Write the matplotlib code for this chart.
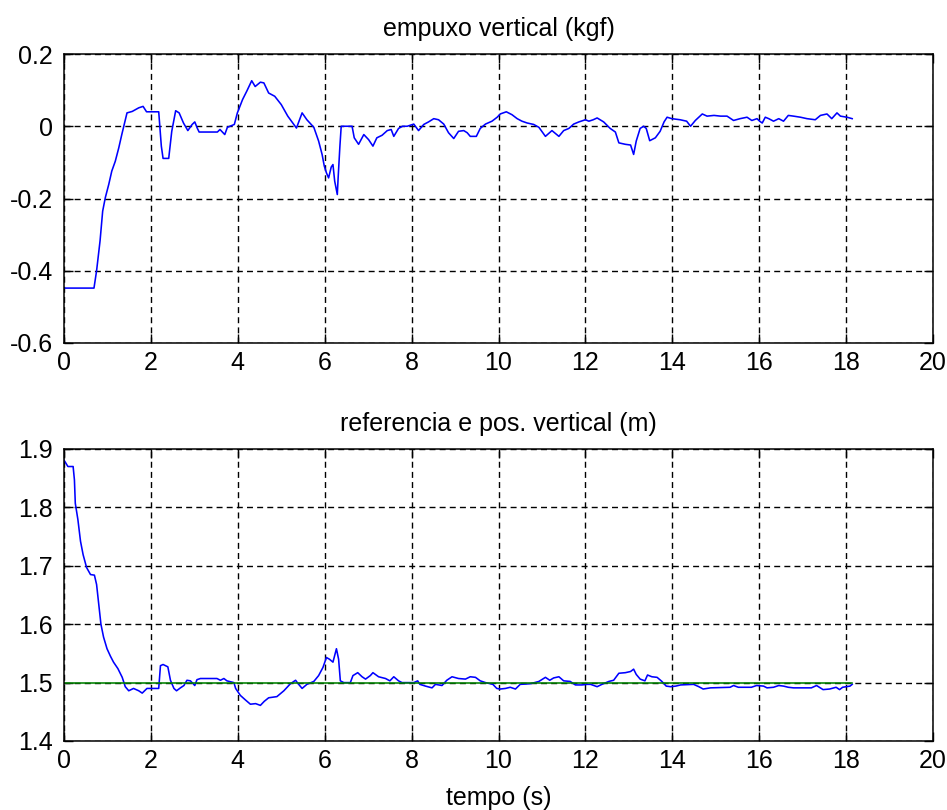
import matplotlib
matplotlib.use("Agg")
import matplotlib.pyplot as plt

plt.rcParams['font.family'] = ['Liberation Sans', 'DejaVu Sans']
plt.rcParams['lines.scale_dashes'] = False

# ---- data: top plot (vertical thrust, kgf) ----
emp_t = [0, 0.69, 0.75, 0.83, 0.89, 0.95, 1.03, 1.10, 1.18, 1.26, 1.33, 1.45, 1.57, 1.72, 1.82,
         1.90, 2.18, 2.24, 2.28, 2.41, 2.48, 2.57, 2.65, 2.75, 2.85, 2.95, 3.01, 3.07, 3.11, 3.53,
         3.59, 3.70, 3.76, 3.92, 3.99, 4.11, 4.21, 4.32, 4.40, 4.52, 4.60, 4.71, 4.85, 5.00, 5.15,
         5.35, 5.48, 5.59, 5.75, 5.86, 5.94, 5.99, 6.04, 6.09, 6.15, 6.19, 6.23, 6.29, 6.31, 6.35,
         6.38, 6.63, 6.68, 6.78, 6.90, 7.01, 7.11, 7.20, 7.32, 7.44, 7.53, 7.59, 7.70, 7.79, 7.90,
         8.05, 8.16, 8.28, 8.39, 8.51, 8.62, 8.74, 8.85, 8.97, 9.08, 9.20, 9.28, 9.35, 9.49, 9.58,
         9.70, 9.85, 9.97, 10.04, 10.18, 10.31, 10.43, 10.54, 10.66, 10.81, 10.93, 11.08, 11.23,
         11.39, 11.50, 11.62, 11.73, 11.85, 12.00, 12.08, 12.18, 12.27, 12.42, 12.57, 12.69, 12.77,
         12.92, 13.04, 13.11, 13.17, 13.26, 13.34, 13.40, 13.48, 13.61, 13.72, 13.81, 13.88, 13.99,
         14.18, 14.33, 14.42, 14.53, 14.69, 14.80, 14.96, 15.11, 15.26, 15.41, 15.56, 15.72, 15.83,
         15.95, 16.01, 16.07, 16.14, 16.22, 16.33, 16.45, 16.56, 16.67, 16.79, 16.95, 17.10, 17.29,
         17.41, 17.56, 17.67, 17.79, 17.87, 18.02, 18.14]
emp_v = [-0.448, -0.448, -0.40, -0.317, -0.235, -0.198, -0.161, -0.124, -0.097, -0.06, -0.023,
         0.037, 0.041, 0.051, 0.055, 0.040, 0.040, -0.055, -0.089, -0.089, -0.014, 0.043, 0.037,
         0.009, -0.012, 0.005, 0.012, -0.006, -0.016, -0.016, -0.009, -0.023, -0.003, 0.005, 0.037,
         0.074, 0.098, 0.126, 0.110, 0.122, 0.120, 0.092, 0.083, 0.060, 0.028, -0.005, 0.037, 0.018,
         -0.003, -0.041, -0.078, -0.11, -0.129, -0.143, -0.113, -0.106, -0.152, -0.189, -0.141,
         -0.055, 0.0, 0.0, -0.032, -0.05, -0.023, -0.037, -0.055, -0.032, -0.025, -0.012, -0.009,
         -0.028, -0.006, 0.0, 0.0, 0.006, -0.012, 0.005, 0.012, 0.021, 0.018, 0.006, -0.018, -0.034,
         -0.014, -0.012, -0.018, -0.028, -0.028, -0.006, 0.006, 0.014, 0.025, 0.034, 0.040, 0.032,
         0.021, 0.014, 0.009, 0.005, -0.003, -0.028, -0.012, -0.028, -0.012, -0.006, 0.006, 0.012,
         0.018, 0.014, 0.018, 0.023, 0.012, -0.006, -0.016, -0.046, -0.050, -0.052, -0.078, -0.041,
         -0.006, 0.0, -0.006, -0.040, -0.032, -0.014, 0.012, 0.025, 0.021, 0.018, 0.014, 0.0, 0.016,
         0.034, 0.028, 0.030, 0.028, 0.028, 0.016, 0.021, 0.025, 0.016, 0.021, 0.014, 0.009, 0.025,
         0.021, 0.014, 0.021, 0.014, 0.030, 0.028, 0.025, 0.021, 0.018, 0.030, 0.034, 0.021, 0.037,
         0.028, 0.025, 0.021]

# ---- data: bottom plot (reference and vertical position, m) ----
pos_t = [0, 0.09, 0.21, 0.24, 0.26, 0.32, 0.38, 0.44, 0.52, 0.61, 0.70, 0.75, 0.80, 0.85, 0.91,
         0.99, 1.07, 1.14, 1.24, 1.34, 1.41, 1.49, 1.60, 1.72, 1.80, 1.91, 2.18, 2.22, 2.28, 2.39,
         2.45, 2.53, 2.59, 2.68, 2.76, 2.83, 2.91, 3.01, 3.06, 3.14, 3.52, 3.60, 3.68, 3.75, 3.91,
         3.95, 4.06, 4.18, 4.29, 4.41, 4.52, 4.61, 4.71, 4.90, 5.06, 5.21, 5.33, 5.39, 5.48, 5.59,
         5.75, 5.86, 5.96, 6.04, 6.11, 6.19, 6.27, 6.32, 6.36, 6.44, 6.59, 6.65, 6.76, 6.86, 6.94,
         7.05, 7.11, 7.24, 7.40, 7.50, 7.59, 7.70, 7.78, 8.05, 8.14, 8.19, 8.32, 8.47, 8.55, 8.70,
         8.81, 8.93, 9.08, 9.24, 9.35, 9.47, 9.58, 9.70, 9.87, 9.96, 10.04, 10.16, 10.27, 10.39,
         10.50, 10.73, 10.93, 11.08, 11.18, 11.27, 11.39, 11.50, 11.65, 11.77, 11.92, 12.04, 12.12,
         12.27, 12.38, 12.54, 12.65, 12.77, 12.92, 13.04, 13.11, 13.17, 13.26, 13.37, 13.43, 13.53,
         13.65, 13.76, 13.86, 13.96, 14.08, 14.19, 14.49, 14.61, 14.71, 14.88, 15.33, 15.41, 15.52,
         15.82, 15.94, 16.10, 16.18, 16.33, 16.45, 16.56, 16.67, 16.79, 17.20, 17.32, 17.47, 17.62,
         17.77, 17.85, 17.92, 18.09, 18.14]
pos_v = [1.881, 1.870, 1.870, 1.847, 1.807, 1.779, 1.742, 1.719, 1.697, 1.685, 1.684, 1.668, 1.634,
         1.600, 1.578, 1.558, 1.545, 1.535, 1.524, 1.509, 1.493, 1.486, 1.490, 1.486, 1.482, 1.490,
         1.490, 1.529, 1.531, 1.527, 1.504, 1.490, 1.486, 1.491, 1.495, 1.504, 1.503, 1.495, 1.505,
         1.507, 1.507, 1.504, 1.507, 1.503, 1.500, 1.490, 1.478, 1.470, 1.463, 1.464, 1.461, 1.468,
         1.474, 1.476, 1.486, 1.498, 1.504, 1.498, 1.490, 1.497, 1.502, 1.512, 1.526, 1.543, 1.540,
         1.535, 1.558, 1.540, 1.503, 1.500, 1.500, 1.512, 1.517, 1.510, 1.506, 1.512, 1.517, 1.510,
         1.507, 1.503, 1.510, 1.503, 1.500, 1.500, 1.503, 1.497, 1.494, 1.491, 1.497, 1.495, 1.504,
         1.510, 1.507, 1.506, 1.510, 1.509, 1.503, 1.500, 1.497, 1.490, 1.489, 1.490, 1.492, 1.489,
         1.497, 1.498, 1.502, 1.509, 1.504, 1.508, 1.510, 1.503, 1.502, 1.496, 1.496, 1.497, 1.497,
         1.493, 1.497, 1.502, 1.504, 1.516, 1.517, 1.519, 1.523, 1.514, 1.506, 1.503, 1.513, 1.510,
         1.509, 1.502, 1.494, 1.493, 1.494, 1.496, 1.497, 1.493, 1.489, 1.491, 1.492, 1.495, 1.492,
         1.492, 1.495, 1.494, 1.491, 1.492, 1.495, 1.494, 1.492, 1.491, 1.491, 1.495, 1.488, 1.489,
         1.492, 1.488, 1.492, 1.494, 1.497]
ref_t = [0, 18.14]
ref_v = [1.5, 1.5]

x_ticks = [0, 2, 4, 6, 8, 10, 12, 14, 16, 18, 20]
top_yticks = [-0.6, -0.4, -0.2, 0, 0.2]
top_ylabels = ['-0.6', '-0.4', '-0.2', '0', '0.2']
bot_yticks = [1.4, 1.5, 1.6, 1.7, 1.8, 1.9]
bot_ylabels = ['1.4', '1.5', '1.6', '1.7', '1.8', '1.9']

title_top = 'empuxo vertical (kgf)'
title_bot = 'referencia e pos. vertical (m)'
xlabel_bot = 'tempo (s)'

FS = 18
fig = plt.figure(figsize=(9.47, 8.10), dpi=100)
ax1 = fig.add_axes([64/947, 1 - 343/810, 869/947, 289/810])
ax2 = fig.add_axes([64/947, 1 - 741/810, 869/947, 292/810])


def style(ax, yticks, ylabels, ylim):
    ax.set_xlim(0, 20)
    ax.set_ylim(*ylim)
    ax.set_xticks(x_ticks)
    ax.set_xticklabels([str(v) for v in x_ticks])
    ax.set_yticks(yticks)
    ax.set_yticklabels(ylabels)
    ax.grid(True, color='black', linestyle=(0, (4.3, 3.0)), linewidth=1.0)
    ax.tick_params(direction='in', length=6.5, width=1.0, top=True, right=True,
                   labelsize=FS, colors='black')
    ax.tick_params(axis='y', pad=8)
    ax.tick_params(axis='x', pad=6)
    for s in ax.spines.values():
        s.set_linewidth(1.1)
        s.set_color('black')


ax1.plot(emp_t, emp_v, color='#0000ff', linewidth=1.15)
style(ax1, top_yticks, top_ylabels, (-0.6, 0.2))
ax1.set_title(title_top, fontsize=FS, pad=13)

ax2.plot(pos_t, pos_v, color='#0000ff', linewidth=1.15)
ax2.plot(ref_t, ref_v, color='#008000', linewidth=1.15)
style(ax2, bot_yticks, bot_ylabels, (1.4, 1.9))
ax2.set_title(title_bot, fontsize=FS, pad=13)
ax2.set_xlabel(xlabel_bot, fontsize=FS, labelpad=9)

fig.savefig('out.png', dpi=100)
